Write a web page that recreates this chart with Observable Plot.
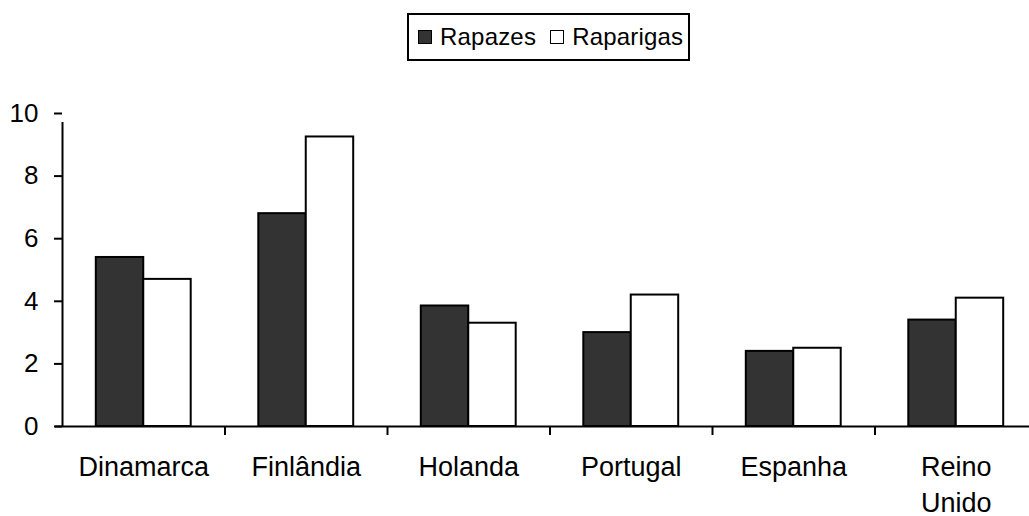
<!DOCTYPE html>
<html>
<head>
<meta charset="utf-8">
<script src="https://cdn.jsdelivr.net/npm/d3@7"></script>
<script src="https://cdn.jsdelivr.net/npm/@observablehq/plot@0.6"></script>
<style>
  html, body { margin: 0; padding: 0; background: #fff; overflow: hidden; }
  body { width: 1029px; height: 516px; position: relative; font-family: "Liberation Sans", Arial, sans-serif; }
  #legend { position: relative; height: 75px; }
  #legend .box { position: absolute; left: 407px; top: 13px; width: 283px; height: 48px; box-sizing: border-box;
    border: 2px solid #000; display: flex; align-items: center; padding-left: 9px; font-size: 24px; color: #000; }
  #legend .sw { width: 14px; height: 14px; border: 1.5px solid #000; box-sizing: border-box; margin-right: 8px; }
  #legend .item { display: flex; align-items: center; margin-right: 14px; letter-spacing: 0.2px; }
</style>
</head>
<body>
<div id="legend"></div>
<div id="chart"></div>
<script>
const categories = ["Dinamarca", "Finlândia", "Holanda", "Portugal", "Espanha", "Reino\nUnido"];
const rapazes   = [5.4, 6.8, 3.85, 3.0, 2.4, 3.4];
const raparigas = [4.7, 9.25, 3.3, 4.2, 2.5, 4.1];
const seriesNames = ["Rapazes", "Raparigas"];
const seriesFill = ["#333333", "#ffffff"];
const yTicks = [0, 2, 4, 6, 8, 10];

// legend
const legend = document.getElementById("legend");
const box = document.createElement("div");
box.className = "box";
seriesNames.forEach((n, i) => {
  const it = document.createElement("div");
  it.className = "item";
  const sw = document.createElement("div");
  sw.className = "sw";
  sw.style.background = seriesFill[i];
  it.appendChild(sw);
  it.appendChild(document.createTextNode(n));
  box.appendChild(it);
});
legend.appendChild(box);

// table
const barW = 0.292;
const rows = [];
categories.forEach((c, i) => {
  rows.push({cat: c, idx: i, series: seriesNames[0], value: rapazes[i], x1: i + 0.5 - barW, x2: i + 0.5});
  rows.push({cat: c, idx: i, series: seriesNames[1], value: raparigas[i], x1: i + 0.5, x2: i + 0.5 + barW});
});
const boundaries = d3.range(1, categories.length);

const chart = Plot.plot({
  width: 1029,
  height: 441,
  marginLeft: 62,
  marginRight: -8,
  marginTop: 38,
  marginBottom: 90,
  style: {fontFamily: "'Liberation Sans', Arial, sans-serif", fontSize: "26px", color: "#000", background: "#fff", overflow: "visible"},
  x: {domain: [0, categories.length], axis: null},
  y: {domain: [0, 10], axis: null},
  color: {domain: seriesNames, range: seriesFill},
  marks: [
    Plot.rectY(rows, {x1: "x1", x2: "x2", y1: 0, y2: "value", fill: "series", stroke: "#000", strokeWidth: 2}),
    Plot.ruleY([0], {stroke: "#000", strokeWidth: 2, insetLeft: -7}),
    Plot.ruleX([0], {y1: 0, y2: 10, stroke: "#000", strokeWidth: 2, insetBottom: -9}),
    Plot.ruleX(boundaries, {y1: 0, y2: 0, stroke: "#000", strokeWidth: 2, insetBottom: -9}),
    Plot.axisY({ticks: yTicks, tickSize: 8, tickPadding: 16, stroke: "#000", strokeWidth: 2, strokeOpacity: 1, fontSize: 26, label: null, tickFormat: d => String(d)}),
    Plot.text(categories, {x: (d, i) => i + 0.5, y: 0, text: d => d, lineAnchor: "top", dy: 24, fontSize: 27, lineHeight: 1.33, fill: "#000", letterSpacing: 0.5})
  ]
});
document.getElementById("chart").appendChild(chart);
</script>
</body>
</html>
